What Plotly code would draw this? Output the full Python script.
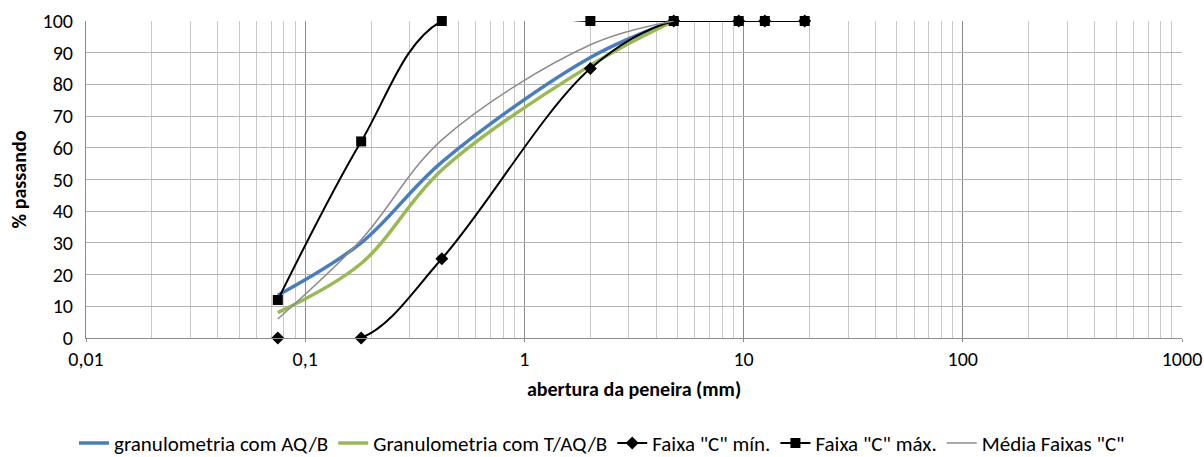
import plotly.graph_objects as go

# Sieve openings (mm)
sieves = [0.075, 0.18, 0.42, 2.0, 4.8]
sieves_band = [0.075, 0.18, 0.42, 2.0, 4.8, 9.5, 12.5, 19.0]

gran_aqb = [13.5, 30, 55.5, 88.5, 100]
gran_taqb = [8, 23.5, 53, 86, 100]
faixa_min = [0, 0, 25, 85, 100, 100, 100, 100]
faixa_max = [12, 62, 100, 100, 100, 100, 100, 100]
media = [6, 31, 62.5, 92.5, 100]

x_tickvals = [0.01, 0.1, 1, 10, 100, 1000]
x_ticktext = ["0,01", "0,1", "1", "10", "100", "1000"]

FONT = "Carlito, Calibri, Lato, sans-serif"
FS = 20
SM = 1.0

minor_vals = [k * 10 ** e for e in range(-2, 3) for k in range(2, 10)]

fig = go.Figure()

fig.add_trace(go.Scatter(
    x=sieves, y=gran_aqb, mode="lines", name="granulometria com AQ/B",
    line=dict(color="#4a7ebb", width=3.5, shape="spline", smoothing=SM),
))
fig.add_trace(go.Scatter(
    x=sieves, y=gran_taqb, mode="lines", name="Granulometria com T/AQ/B",
    line=dict(color="#98b954", width=3.5, shape="spline", smoothing=SM),
))
fig.add_trace(go.Scatter(
    x=sieves_band, y=faixa_min, mode="lines+markers", name='Faixa "C" mín.',
    line=dict(color="black", width=2, shape="spline", smoothing=SM),
    marker=dict(symbol="diamond", size=10, color="black"),
    cliponaxis=False,
))
fig.add_trace(go.Scatter(
    x=sieves_band, y=faixa_max, mode="lines+markers", name='Faixa "C" máx.',
    line=dict(color="black", width=2, shape="spline", smoothing=SM),
    marker=dict(symbol="square", size=10, color="black"),
    cliponaxis=False,
))
fig.add_trace(go.Scatter(
    x=sieves, y=media, mode="lines", name='Média Faixas "C"',
    line=dict(color="#8c8c8c", width=1.5, shape="spline", smoothing=SM),
))

fig.update_layout(
    width=1204, height=457,
    margin=dict(l=86, r=22, t=21, b=119, autoexpand=False),
    paper_bgcolor="white", plot_bgcolor="white",
    font=dict(family=FONT, size=FS, color="black"),
    showlegend=True,
    legend=dict(orientation="h", x=0.5, xanchor="center", xref="container",
                y=0.075, yanchor="top", yref="container",
                font=dict(family=FONT, size=21), itemwidth=30,
                traceorder="normal"),
    xaxis=dict(
        type="log", range=[-2, 3], automargin=False,
        tickvals=x_tickvals, ticktext=x_ticktext,
        showgrid=True, gridcolor="#8c8c8c", gridwidth=1,
        minor=dict(tickvals=minor_vals, showgrid=True, gridcolor="#c8c8c8", gridwidth=1,
                   ticks=""),
        showline=True, linecolor="#8c8c8c", linewidth=1,
        ticks="outside", ticklen=3, tickcolor="#8c8c8c",
        tickfont=dict(family=FONT, size=FS),
        title=dict(text="<b>abertura da peneira (mm)</b>", font=dict(family=FONT, size=FS), standoff=11),
        zeroline=False,
    ),
    yaxis=dict(
        range=[0, 100], dtick=10, automargin=False,
        showgrid=True, gridcolor="#b4b4b4", gridwidth=1,
        showline=True, linecolor="#8c8c8c", linewidth=1,
        ticks="", ticklabelstandoff=8, tickfont=dict(family=FONT, size=FS),
        title=dict(text="<b>% passando</b>", font=dict(family=FONT, size=FS), standoff=10),
        zeroline=False,
    ),
)

fig.write_html("out.html", config={"displayModeBar": False},
               post_script="document.body.style.margin='0px';")
